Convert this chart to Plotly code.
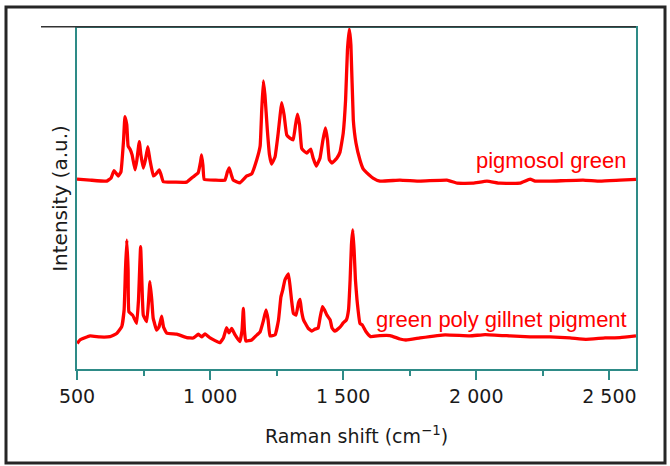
import plotly.graph_objects as go

# ---------------- data ----------------
# upper spectrum: pigmosol green (offset intensity, a.u.)
pig_x = [500, 549, 612, 628, 639, 655, 665, 675, 680, 687, 692, 699, 707, 718, 725,
         734, 740, 749, 757, 766, 774, 787, 797, 809, 816, 824, 868, 912, 937, 955,
         964, 968, 973, 978, 1018, 1056, 1065, 1072, 1080, 1087, 1112, 1138, 1156,
         1175, 1188, 1194, 1200, 1206, 1215, 1223, 1231, 1244, 1255, 1269, 1278, 1288,
         1300, 1312, 1321, 1328, 1336, 1344, 1353, 1363, 1378, 1387, 1399, 1413, 1424,
         1433, 1441, 1448, 1458, 1476, 1488, 1500, 1509, 1516, 1523, 1529, 1538, 1548,
         1563, 1575, 1588, 1612, 1638, 1713, 1789, 1890, 1928, 1988, 2040, 2089, 2164,
         2202, 2221, 2277, 2401, 2465, 2540, 2600]
pig_y = [55.7, 55.4, 55.1, 56.0, 58.2, 56.6, 57.8, 67.2, 74.0, 71.6, 65.4, 64.5, 62.8,
         58.4, 61.3, 66.7, 62.8, 58.9, 61.3, 65.2, 61.3, 56.6, 57.2, 58.4, 56.9, 54.9,
         54.8, 54.8, 56.4, 57.5, 60.7, 62.8, 59.8, 55.6, 55.4, 55.4, 57.8, 59.0, 56.9,
         55.4, 54.6, 56.6, 57.2, 61.3, 65.4, 76.0, 84.5, 80.4, 70.1, 62.8, 60.1, 62.2,
         68.6, 78.1, 74.5, 68.6, 67.7, 67.2, 71.6, 74.7, 71.6, 64.7, 63.9, 63.3, 64.5,
         61.9, 59.5, 61.9, 67.2, 70.7, 67.2, 61.3, 60.4, 61.8, 63.6, 69.1, 78.9, 93.5,
         99.7, 95.0, 73.0, 66.3, 61.3, 58.7, 57.6, 56.0, 55.1, 55.4, 55.1, 55.4, 54.5,
         54.5, 55.1, 54.5, 54.5, 55.7, 55.1, 55.1, 55.4, 55.1, 55.4, 55.6]

# lower spectrum: green poly gillnet pigment
gil_x = [501, 511, 549, 586, 624, 649, 668, 677, 682, 687, 692, 695, 709, 724, 731, 739,
         746, 749, 762, 769, 774, 781, 786, 799, 808, 818, 825, 837, 875, 912, 937, 956,
         968, 981, 1000, 1037, 1050, 1062, 1071, 1081, 1094, 1112, 1120, 1125, 1129,
         1134, 1156, 1172, 1188, 1199, 1210, 1218, 1225, 1244, 1257, 1266, 1273, 1281,
         1294, 1300, 1306, 1313, 1323, 1332, 1338, 1343, 1351, 1357, 1368, 1382, 1394,
         1406, 1413, 1422, 1430, 1439, 1451, 1458, 1469, 1488, 1500, 1512, 1520, 1526,
         1531, 1536, 1541, 1546, 1552, 1563, 1572, 1586, 1603, 1638, 1676, 1713, 1736,
         1789, 1883, 1976, 2033, 2127, 2202, 2277, 2352, 2412, 2484, 2540, 2600]
gil_y = [7.5, 8.5, 9.7, 9.4, 9.5, 10.4, 12.4, 17.3, 29.0, 37.8, 29.0, 16.8, 15.8, 13.4,
         20.2, 35.9, 20.2, 15.8, 13.9, 20.2, 25.6, 20.2, 15.0, 11.4, 12.3, 15.5, 12.3,
         10.5, 10.2, 9.2, 9.1, 10.2, 9.4, 10.3, 9.1, 7.7, 9.1, 12.1, 10.6, 11.9, 10.0,
         8.0, 11.4, 17.8, 11.4, 8.2, 8.5, 9.7, 10.9, 13.8, 17.3, 14.4, 9.7, 10.0, 14.4,
         21.1, 23.2, 26.1, 27.9, 24.6, 20.2, 16.3, 15.8, 19.4, 20.4, 17.3, 14.4, 13.5,
         12.0, 11.1, 11.7, 12.0, 15.0, 18.3, 17.3, 15.8, 14.4, 12.0, 11.1, 12.3, 13.5,
         14.4, 17.3, 26.1, 36.4, 40.8, 34.9, 26.1, 20.2, 13.4, 12.9, 10.9, 9.5, 9.8, 9.8,
         8.8, 8.5, 9.1, 10.0, 9.7, 10.1, 9.7, 9.4, 9.4, 9.1, 8.7, 9.1, 9.2, 9.7]

series_names = ["pigmosol green", "green poly gillnet pigment"]
label_pos_x = [2570, 2574]
label_pos_y = [61.0, 14.5]

tick_vals = [500, 1000, 1500, 2000, 2500]
tick_text = ["500", "1 000", "1 500", "2 000", "2 500"]

x_title = "Raman shift (cm<sup>−1</sup>)"
y_title = "Intensity (a.u.)"

# ---------------- figure ----------------
RED = "#ff0000"
TEAL = "#2e8b87"
W, H = 670, 466
L, R, T, B = 77, 34, 28, 97
pw, ph = W - L - R, H - T - B


def px_to_paper_x(px):
    return (px - L) / pw


def py_to_paper_y(py):
    return (H - B - py) / ph


fig = go.Figure()
for xs, ys, nm in [(pig_x, pig_y, series_names[0]), (gil_x, gil_y, series_names[1])]:
    fig.add_trace(go.Scatter(x=xs, y=ys, mode="lines", name=nm,
                             line=dict(color=RED, width=3.3, shape="spline", smoothing=0.3)))

for nm, lx, ly in zip(series_names, label_pos_x, label_pos_y):
    fig.add_annotation(x=lx, y=ly, xref="x", yref="y", text=nm, showarrow=False,
                       xanchor="right", yanchor="middle",
                       font=dict(family="Liberation Sans, Arial", size=22, color=RED))

# outer frame
fig.add_shape(type="rect", xref="paper", yref="paper",
              x0=px_to_paper_x(6), x1=px_to_paper_x(665),
              y0=py_to_paper_y(463), y1=py_to_paper_y(7),
              line=dict(color="#262626", width=3), layer="above")
# dark line along the top of the plot
fig.add_shape(type="line", xref="paper", yref="paper",
              x0=px_to_paper_x(41), x1=px_to_paper_x(636),
              y0=py_to_paper_y(26.8), y1=py_to_paper_y(26.8),
              line=dict(color="#333333", width=1.5), layer="above")

axis_font = dict(family="DejaVu Sans", size=19, color="#1a1a1a")

fig.update_layout(
    width=W, height=H,
    margin=dict(l=L, r=R, t=T, b=B),
    paper_bgcolor="white", plot_bgcolor="white",
    showlegend=False,
    xaxis=dict(range=[500, 2600], tickvals=tick_vals, ticktext=tick_text,
               ticks="outside", ticklen=9, tickwidth=1.5, tickcolor=TEAL,
               showline=True, linecolor=TEAL, linewidth=2, mirror=True,
               showgrid=False, zeroline=False,
               tickfont=axis_font,
               minor=dict(tickvals=[750, 1250, 1750, 2250], ticks="outside",
                          ticklen=5, tickwidth=1.5, tickcolor=TEAL),
               title=dict(text=x_title, font=axis_font, standoff=24)),
    yaxis=dict(range=[0, 100], showticklabels=False, ticks="",
               showline=True, linecolor=TEAL, linewidth=2, mirror=True,
               showgrid=False, zeroline=False,
               title=dict(text=y_title, font=dict(family="DejaVu Sans", size=20, color="#1a1a1a"),
                          standoff=2)),
)

fig.write_html("out.html")
